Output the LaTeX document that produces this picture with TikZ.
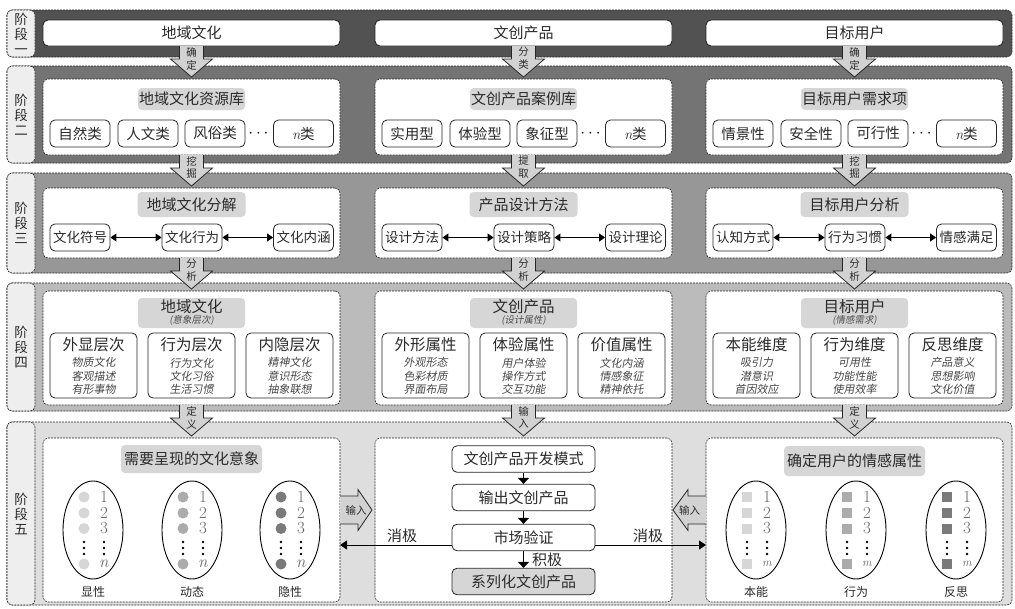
\documentclass[tikz,border=0pt]{standalone}
\usepackage{fontspec}
\newfontfamily\cjk{Noto Sans CJK SC}
\newfontfamily\cjkit[FakeSlant=0.18]{Noto Sans CJK SC}
\usetikzlibrary{arrows.meta}
\definecolor{sA}{HTML}{525252}
\definecolor{sB}{HTML}{747474}
\definecolor{sC}{HTML}{979797}
\definecolor{sD}{HTML}{BBBBBB}
\definecolor{sE}{HTML}{DEDEDE}
\definecolor{labfill}{HTML}{EEEEEE}
\definecolor{titfill}{HTML}{D6D6D6}
\definecolor{arrfill}{HTML}{D2D2D2}
\definecolor{txt}{HTML}{2A2A2A}
\definecolor{mkA}{HTML}{D6D6D6}
\definecolor{mkB}{HTML}{ABABAB}
\definecolor{mkC}{HTML}{7A7A7A}
\tikzset{
  frame/.style={draw=black!85, dash pattern=on 2pt off 1pt, line width=0.6pt, rounded corners=5pt},
  stagelab/.style={text=txt, font=\cjk\fontsize{13.5}{15}\selectfont, align=center, inner sep=0pt},
  topbox/.style={draw=black!85, line width=0.9pt, fill=white, rounded corners=5pt, minimum width=297pt, minimum height=26pt, text=txt, font=\cjk\fontsize{15}{15}\selectfont, inner sep=0pt},
  colbox/.style={draw=black!85, dash pattern=on 2pt off 1pt, line width=0.6pt, fill=white, rounded corners=5pt, minimum width=297pt, inner sep=0pt},
  titlebox/.style={fill=titfill, rounded corners=4pt, text=txt, font=\cjk\fontsize{15}{15}\selectfont, inner sep=0pt},
  subbox/.style={draw=black!85, line width=0.8pt, fill=white, rounded corners=5pt, minimum width=60pt, minimum height=27pt, text=txt, font=\cjk\fontsize{14.5}{14.5}\selectfont, inner sep=0pt},
  dotlab/.style={font=\fontsize{16}{16}\selectfont, inner sep=0pt},
  headtxt/.style={text=txt, font=\cjk\fontsize{15.5}{15.5}\selectfont, inner sep=0pt},
  subtxt/.style={text=black!70, font=\cjkit\fontsize{9.5}{9.5}\selectfont, inner sep=0pt},
  itlines/.style={text=black!72, font=\cjkit\fontsize{11}{13.2}\selectfont, align=center, inner sep=0pt},
  arrlab/.style={text=txt, font=\cjk\fontsize{10.5}{10.5}\selectfont, inner sep=0pt},
  blockline/.style={draw=black!85, line width=0.8pt, line join=miter},
  dblarr/.style={{Triangle[length=6pt,width=8pt]}-{Triangle[length=6pt,width=8pt]}, line width=0.9pt, black},
  flowarr/.style={-{Triangle[length=6pt,width=11pt]}, line width=1pt, black},
  negarr/.style={-{Triangle[length=7pt,width=9pt]}, line width=0.9pt, black},
  flowbox/.style={draw=black!85, line width=0.8pt, fill=white, rounded corners=5pt, minimum width=143pt, minimum height=26.5pt, text=txt, font=\cjk\fontsize{15}{15}\selectfont, inner sep=0pt},
  flowlab/.style={text=txt, font=\cjk\fontsize{15}{15}\selectfont, inner sep=0pt},
  ellline/.style={draw=black, line width=0.9pt},
  circmk/.style={circle, minimum size=11pt, inner sep=0pt},
  sqmk/.style={rectangle, minimum size=10pt, inner sep=0pt},
  numlab/.style={text=black!60, font=\fontsize{17}{17}\selectfont, inner sep=0pt},
  botlab/.style={text=txt, font=\cjk\fontsize{12}{12}\selectfont, inner sep=0pt},
}
\newcommand\StTwo[6]{%
  \node[colbox, minimum height=76pt] (#2) at ({#1+148.5},117) {};
  \node[titlebox, minimum width=107pt, minimum height=22pt] (#2t) at ({#1+148.5},99) {#3};
  \node[subbox] (#2a) at ({#1+37},133.5) {#4};
  \node[subbox] (#2b) at ({#1+105},133.5) {#5};
  \node[subbox] (#2c) at ({#1+172},133.5) {#6};
  \node[dotlab] (#2d) at ({#1+215.5},134) {$\cdots$};
  \node[subbox] (#2n) at ({#1+260.5},133.5) {{\rmfamily\itshape n}类};
}
\newcommand\StThree[6]{%
  \node[colbox, minimum height=70pt] (#2) at ({#1+148.5},223) {};
  \node[titlebox, minimum width=108pt, minimum height=25pt] (#2t) at ({#1+148.5},204.5) {#3};
  \node[subbox, font=\cjk\fontsize{13.5}{13.5}\selectfont] (#2a) at ({#1+37},237.5) {#4};
  \node[subbox, font=\cjk\fontsize{13.5}{13.5}\selectfont] (#2b) at ({#1+149},237.5) {#5};
  \node[subbox, font=\cjk\fontsize{13.5}{13.5}\selectfont] (#2c) at ({#1+260.5},237.5) {#6};
  \draw[dblarr] (#2a) -- (#2b);
  \draw[dblarr] (#2b) -- (#2c);
}
\newcommand\StFourHead[4]{%
  \node[colbox, minimum height=114pt] (#2) at ({#1+148.5},348) {};
  \node[titlebox, minimum width=107pt, minimum height=30pt] (#2t) at ({#1+148.5},313) {};
  \node[headtxt] (#2tm) at ({#1+148.5},306.5) {#3};
  \node[subtxt] (#2ts) at ({#1+148.5},320.5) {(#4)};
}
\newcommand\StFourBox[6]{%
  \node[subbox, minimum width=87pt, minimum height=65pt] (#2) at (#1,365.5) {};
  \node[headtxt] (#2h) at (#1,345) {#3};
  \node[itlines] (#2l) at (#1,376) {#4\\#5\\#6};
}
\newcommand\EllGroup[6]{%
  \draw[ellline] (#2,530) ellipse [x radius=30, y radius=49];
  \node[#3, fill=#4] (#1m1) at ({#2-9},497) {};
  \node[#3, fill=#4] (#1m2) at ({#2-9},513) {};
  \node[#3, fill=#4] (#1m3) at ({#2-9},528.5) {};
  \node[#3, fill=#4] (#1mn) at ({#2-9},564) {};
  \node[numlab] (#1n1) at ({#2+11},497) {1};
  \node[numlab] (#1n2) at ({#2+11},513) {2};
  \node[numlab] (#1n3) at ({#2+11},528.5) {3};
  \node[numlab] (#1nn) at ({#2+11},564) {#5};
  \foreach \yy in {542,548,554}{\fill ({#2-9},\yy) circle (1.3); \fill ({#2+11},\yy) circle (1.3);}
  \node[botlab] (#1lab) at (#2,592) {#6};
}
\newcommand\DownArr[6]{%
  \fill[arrfill] ({#2-12},#3) -- ({#2-12},{#4-18}) -- ({#2-21},{#4-18}) -- (#2,#4) -- ({#2+21},{#4-18}) -- ({#2+12},{#4-18}) -- ({#2+12},#3) -- cycle;
  \draw[blockline] ({#2-12},#3) -- ({#2-12},{#4-18}) -- ({#2-21},{#4-18}) -- (#2,#4) -- ({#2+21},{#4-18}) -- ({#2+12},{#4-18}) -- ({#2+12},#3);
  \node[arrlab] (#1a) at (#2,{#3+6}) {#5};
  \node[arrlab] (#1b) at (#2,{#3+19}) {#6};
}
\newcommand\HArr[5]{%
  \fill[arrfill] (#2,496) -- (#3,496) -- (#3,489.5) -- (#4,510) -- (#3,530.5) -- (#3,524) -- (#2,524) -- cycle;
  \draw[blockline] (#2,496) -- (#3,496) -- (#3,489.5) -- (#4,510) -- (#3,530.5) -- (#3,524) -- (#2,524);
  \node[arrlab] (#1) at ({(#2+#4)/2},510) {#5};
}
\begin{document}
\begin{tikzpicture}[x=1pt,y=-1pt]
\useasboundingbox (0,0) rectangle (1015,608);
% stage bands
\foreach \ya/\yb/\cc in {10/57/sA,66/163/sB,173/273/sC,283/411/sD,422/605/sE}{
  \draw[frame, fill=\cc] (7,\ya) rectangle (1012,\yb);
  \draw[frame, fill=labfill] (7,\ya) rectangle (35,\yb);
}
\node[stagelab] (lab1) at (21,33.5) {阶\\段\\一};
\node[stagelab] (lab2) at (21,114.5) {阶\\段\\二};
\node[stagelab] (lab3) at (21,223) {阶\\段\\三};
\node[stagelab] (lab4) at (21,347) {阶\\段\\四};
\node[stagelab] (lab5) at (21,513.5) {阶\\段\\五};
% stage 1
\node[topbox] (t1) at (191.5,33) {地域文化};
\node[topbox] (t2) at (523.5,33) {文创产品};
\node[topbox] (t3) at (854.5,33) {目标用户};
% stage 2
\StTwo{43}{ba}{地域文化资源库}{自然类}{人文类}{风俗类}
\StTwo{375}{bb}{文创产品案例库}{实用型}{体验型}{象征型}
\StTwo{706}{bc}{目标用户需求项}{情景性}{安全性}{可行性}
% stage 3
\StThree{43}{ca}{地域文化分解}{文化符号}{文化行为}{文化内涵}
\StThree{375}{cb}{产品设计方法}{设计方法}{设计策略}{设计理论}
\StThree{706}{cc}{目标用户分析}{认知方式}{行为习惯}{情感满足}
% stage 4
\StFourHead{43}{da}{地域文化}{意象层次}
\StFourBox{93.5}{da1}{外显层次}{物质文化}{客观描述}{有形事物}
\StFourBox{191.5}{da2}{行为层次}{行为文化}{文化习俗}{生活习惯}
\StFourBox{289.5}{da3}{内隐层次}{精神文化}{意识形态}{抽象联想}
\StFourHead{375}{db}{文创产品}{设计属性}
\StFourBox{425.5}{db1}{外形属性}{外观形态}{色彩材质}{界面布局}
\StFourBox{523.5}{db2}{体验属性}{用户体验}{操作方式}{交互功能}
\StFourBox{621.5}{db3}{价值属性}{文化内涵}{情感象征}{精神依托}
\StFourHead{706}{dc}{目标用户}{情感需求}
\StFourBox{756.5}{dc1}{本能维度}{吸引力}{潜意识}{首因效应}
\StFourBox{854.5}{dc2}{行为维度}{可用性}{功能性能}{使用效率}
\StFourBox{952.5}{dc3}{反思维度}{产品意义}{思想影响}{文化价值}
% stage 5
\node[colbox, minimum height=164pt] (ea) at (191.5,520) {};
\node[colbox, minimum height=164pt] (eb) at (523.5,520) {};
\node[colbox, minimum height=164pt] (ec) at (854.5,520) {};
\node[titlebox, minimum width=141pt, minimum height=28pt] (eat) at (191.5,459) {需要呈现的文化意象};
\node[titlebox, minimum width=141pt, minimum height=30pt] (ect) at (854.5,461) {确定用户的情感属性};
\EllGroup{g1}{93}{circmk}{mkA}{\textit{n}}{显性}
\EllGroup{g2}{192}{circmk}{mkB}{\textit{n}}{动态}
\EllGroup{g3}{290}{circmk}{mkC}{\textit{n}}{隐性}
\EllGroup{h1}{756}{sqmk}{mkA}{{\fontsize{12}{12}\selectfont\textit{m}}}{本能}
\EllGroup{h2}{856}{sqmk}{mkB}{{\fontsize{12}{12}\selectfont\textit{m}}}{行为}
\EllGroup{h3}{956}{sqmk}{mkC}{{\fontsize{12}{12}\selectfont\textit{m}}}{反思}
\node[flowbox] (m1) at (523.5,459) {文创产品开发模式};
\node[flowbox] (m2) at (523.5,497.5) {输出文创产品};
\node[flowbox] (m3) at (523.5,537.5) {市场验证};
\node[flowbox, fill=titfill] (m4) at (523.5,581.5) {系列化文创产品};
\draw[flowarr] (m1) -- (m2);
\draw[flowarr] (m2) -- (m3);
\draw[flowarr] (m3) -- (m4);
\node[flowlab] (pos) at (547,560) {积极};
\coordinate (negL) at (340,545);
\coordinate (negR) at (706,545);
\draw[negarr] ([yshift=-7.5pt]m3.west) -- (negL);
\draw[negarr] ([yshift=-7.5pt]m3.east) -- (negR);
\node[flowlab] (negLt) at (402,536) {消极};
\node[flowlab] (negRt) at (648,536) {消极};
\HArr{inL}{340}{358}{372}{输入}
\HArr{inR}{706}{688}{673}{输入}
% block arrows between stages
\DownArr{a11}{191.5}{46}{77}{确}{定}
\DownArr{a12}{523.5}{46}{77}{分}{类}
\DownArr{a13}{854.5}{46}{77}{确}{定}
\DownArr{a21}{191.5}{155}{186}{挖}{掘}
\DownArr{a22}{523.5}{155}{186}{提}{取}
\DownArr{a23}{854.5}{155}{186}{挖}{掘}
\DownArr{a31}{191.5}{258}{289}{分}{析}
\DownArr{a32}{523.5}{258}{289}{分}{析}
\DownArr{a33}{854.5}{258}{289}{分}{析}
\DownArr{a41}{191.5}{405}{436}{定}{义}
\DownArr{a42}{523.5}{405}{436}{输}{入}
\DownArr{a43}{854.5}{405}{436}{定}{义}
\end{tikzpicture}
\end{document}
